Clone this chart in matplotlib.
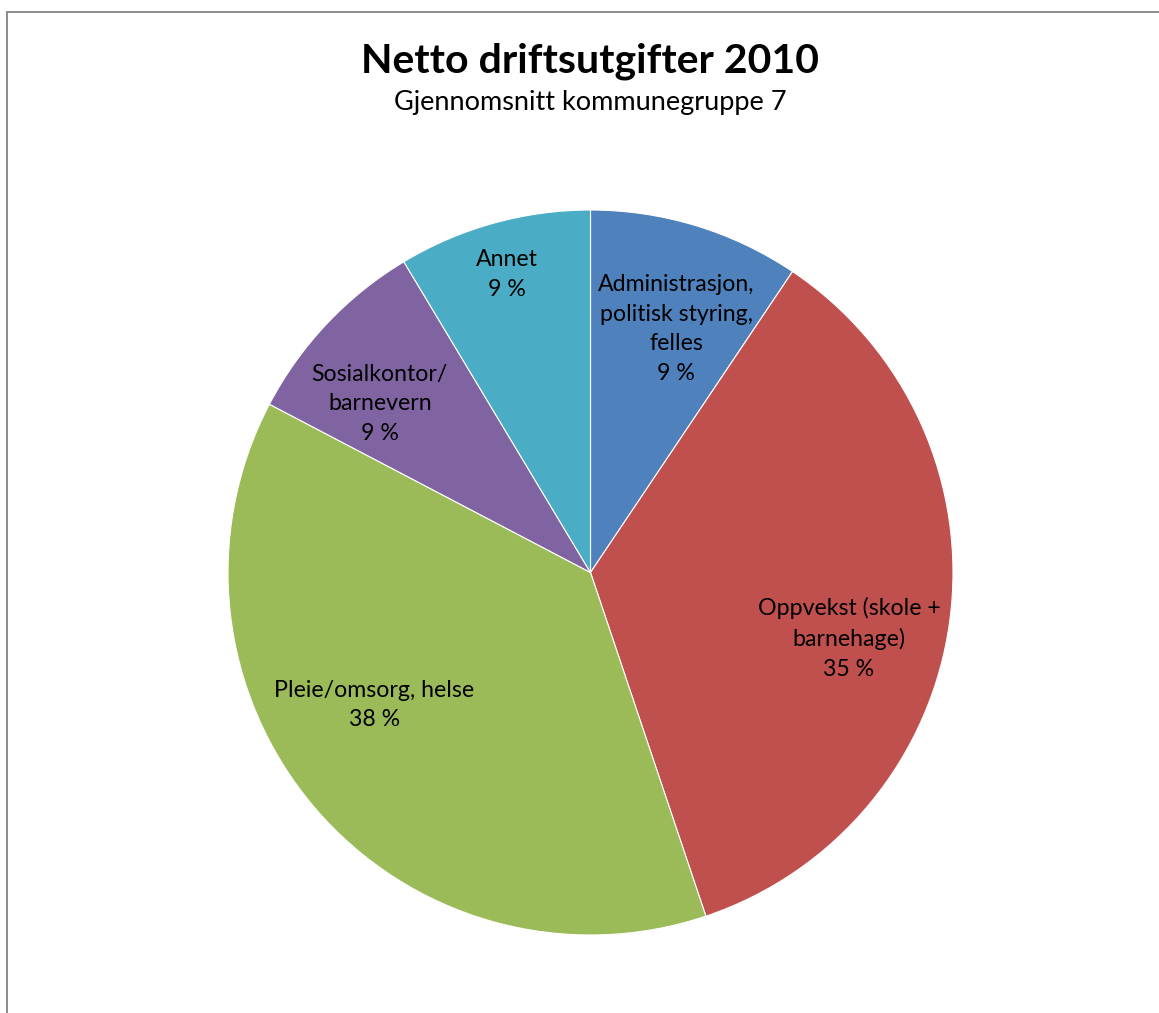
import matplotlib
matplotlib.use("Agg")
import matplotlib.pyplot as plt
from matplotlib.lines import Line2D

categories = ["Administrasjon,\npolitisk styring,\nfelles", "Oppvekst (skole +\nbarnehage)",
              "Pleie/omsorg, helse", "Sosialkontor/\nbarnevern", "Annet"]
values = [9.4, 35.4, 37.8, 8.7, 8.6]
colors = ["#4F81BD", "#C0504D", "#9BBB59", "#8064A2", "#4BACC6"]
title = "Netto driftsutgifter 2010"
subtitle = "Gjennomsnitt kommunegruppe 7"

# label positions (axes data units, relative to pie centre, radius = 1)
label_pos = [(0.236, 0.672), (0.713, -0.182), (-0.596, -0.366), (-0.581, 0.466), (-0.230, 0.822)]

W, H = 1159, 1013
fig = plt.figure(figsize=(W / 100, H / 100), dpi=100)
fig.patch.set_facecolor("white")

# chart border (top and left edges visible)
bc = "#8c8c8c"
fig.add_artist(Line2D([7 / W, 1.0], [1 - 12 / H, 1 - 12 / H], transform=fig.transFigure,
                      color=bc, linewidth=1.4))
fig.add_artist(Line2D([7 / W, 7 / W], [0.0, 1 - 12 / H], transform=fig.transFigure,
                      color=bc, linewidth=1.4))

cx, cy, r = 590.5, 572.5, 362.5
ax = fig.add_axes([(cx - r) / W, (H - cy - r) / H, 2 * r / W, 2 * r / H])
wedges, _ = ax.pie(values, colors=colors, startangle=90, counterclock=False, radius=1,
                   wedgeprops=dict(linewidth=0.8, edgecolor="white"))
ax.set_xlim(-1, 1)
ax.set_ylim(-1, 1)
ax.set_aspect("equal")
ax.axis("off")

total = sum(values)
for lab, v, (x, y) in zip(categories, values, label_pos):
    pct = "%.0f %%" % (v / total * 100)
    ax.text(x, y, lab + "\n" + pct, ha="center", va="center", fontsize=16.7,
            family="Lato", linespacing=1.5, color="black")

fig.text(590 / W, 1 - 73 / H, title, ha="center", va="baseline", fontsize=29.5,
         family="Lato", fontweight="bold")
fig.text(590 / W, 1 - 110 / H, subtitle, ha="center", va="baseline", fontsize=19.5,
         family="Lato")

fig.savefig("out.png", dpi=100, facecolor="white")
